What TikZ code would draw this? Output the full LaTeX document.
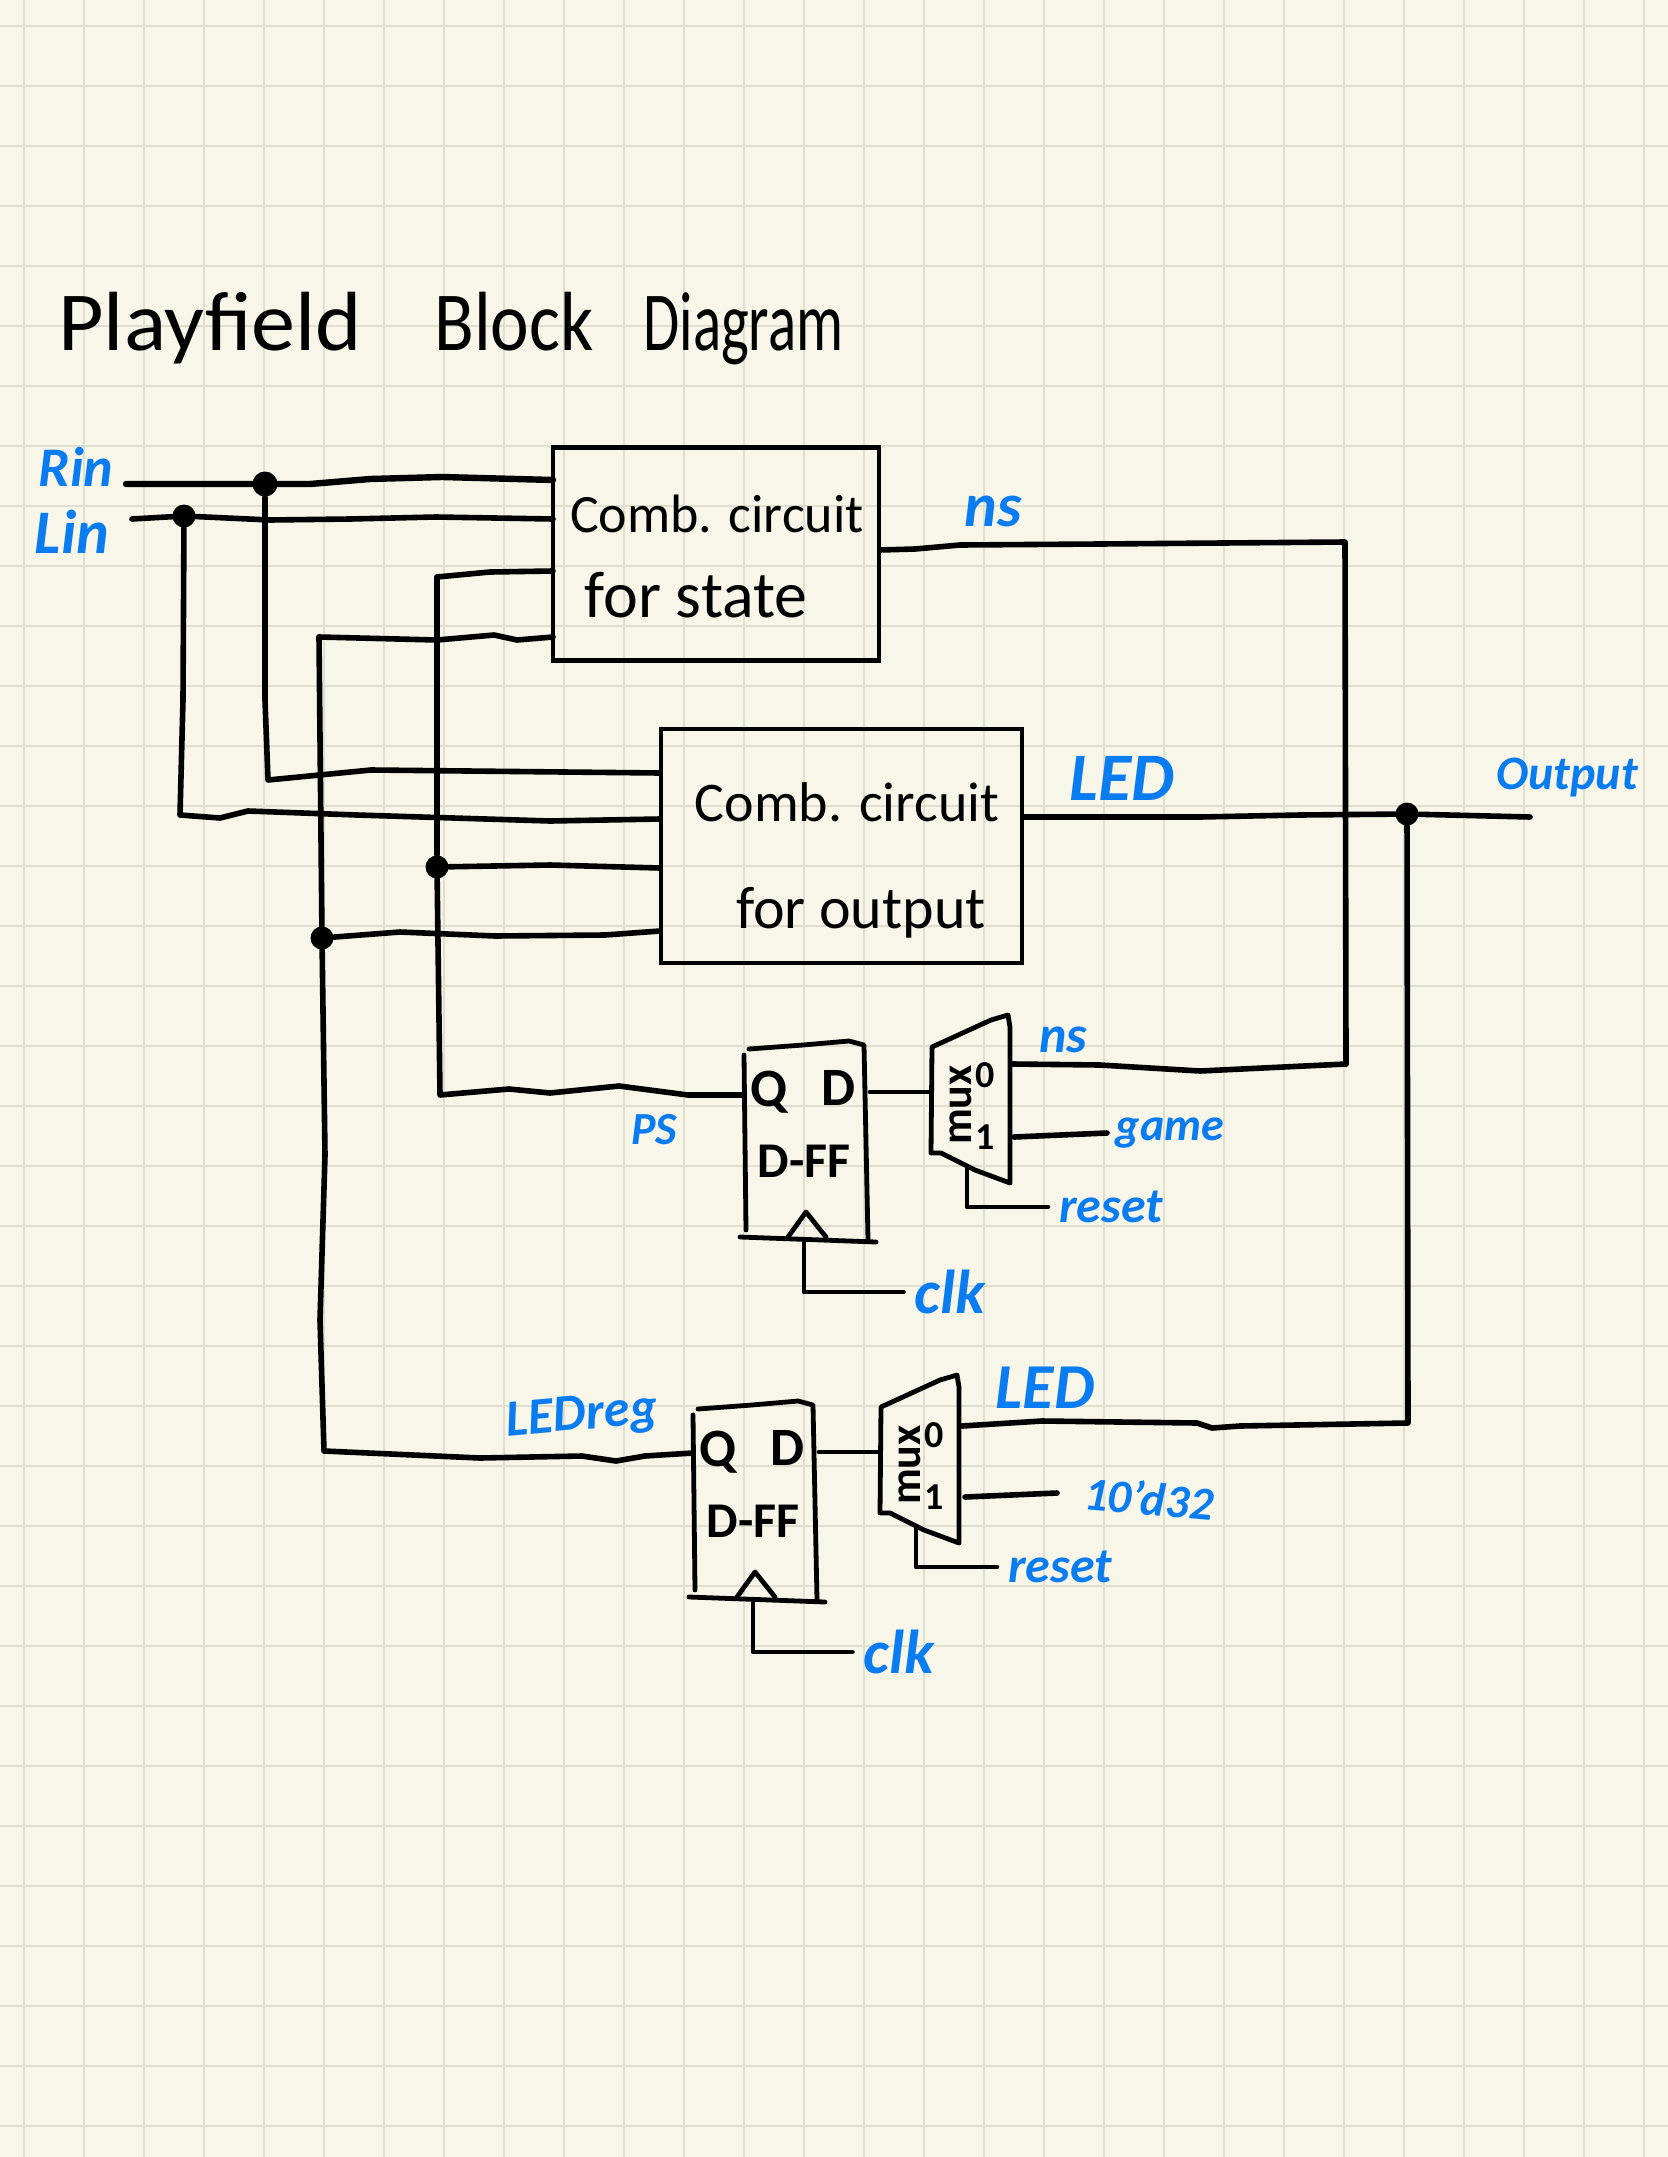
\documentclass[tikz,border=0pt]{standalone}
\usepackage{fontspec}
\usepackage{graphicx}
\setmainfont{Carlito}
\usetikzlibrary{positioning}
\definecolor{paper}{HTML}{F8F6E9}
\definecolor{gridc}{HTML}{E0DECF}
\definecolor{sigblue}{HTML}{0A7CF2}
\tikzset{
    block/.style={draw, line width=2.2pt, inner sep=0pt},
    wire/.style={line width=2.8pt, line join=round, line cap=round},
    part/.style={line width=2.4pt, line join=round, line cap=round},
    dot/.style={circle, fill=black, inner sep=0pt, minimum size=11.5pt},
    hand/.style={inner sep=0pt, font=\fontsize{#1}{#1}\selectfont},
    handb/.style={inner sep=0pt, font=\bfseries\fontsize{#1}{#1}\selectfont},
    sig/.style={text=sigblue, inner sep=5.5pt, font=\bfseries\itshape\fontsize{#1}{#1}\selectfont},
}
\begin{document}
\begin{tikzpicture}[x=0.5pt, y=-0.5pt]
    \useasboundingbox (0,0) rectangle (1668,2157);
    \fill[paper] (0,0) rectangle (1668,2157);
    \foreach \gx in {24,84,...,1668} \draw[gridc, line width=1pt] (\gx,0) -- (\gx,2157);
    \foreach \gy in {26,86,...,2157} \draw[gridc, line width=1pt] (0,\gy) -- (1668,\gy);

    \node[hand=42, anchor=base west] (title) at (58,350)
        {\scalebox{1.05}[1]{Playfield}\hspace{36pt}\scalebox{0.87}[1]{Block}\hspace{25pt}\scalebox{0.7}[1]{Diagram}};

    \node[block, minimum width=163pt, minimum height=106.5pt] (cs) at (716,554) {};
    \node[block, minimum width=180.5pt, minimum height=117pt] (co) at (841.5,846) {};
    \node[hand=27, anchor=base] (csa) at (717,532) {Comb. circuit};
    \node[hand=33, anchor=base] (csb) at (696,617) {for state};
    \node[hand=28, anchor=base] (coa) at (847,821) {Comb. circuit};
    \node[hand=30, anchor=base] (cob) at (861,928) {for output};

    \node[sig=28] (rin) at (76,467) {Rin};
    \node[sig=31] (lin) at (72,532) {Lin};
    \node[sig=31] (nsl) at (993,511) {ns};
    \node[sig=34] (ledl) at (1122,778) {LED};
    \node[sig=24] (outl) at (1567,778) {Output};
    \node[sig=23] (psl) at (654,1130) {PS};
    \node[sig=26] (nsa) at (1063,1040) {ns};
    \node[sig=23] (game) at (1170,1133) {game};
    \node[sig=32] (ledb) at (1045,1388) {LED};
    \node[sig=23.5, rotate=-5] (dec) at (1149,1498) {10'd32};
    \node[sig=26, rotate=5] (ledr) at (582,1417) {LEDreg};

    \foreach \s/\dx/\dy in {a/0/0, b/-51/360} {
        \begin{scope}[shift={(\dx,\dy)}]
            \node[handb=25] (ff\s) at (804,1161) {D-FF};
            \node[handb=27] (q\s) at (769,1092) {Q};
            \node[handb=27] (d\s) at (839,1088) {D};
            \draw[part] (744,1055) -- (746,1230);
            \draw[part] (749,1049) -- (803,1045) -- (849,1041) -- (864,1045) -- (868,1240);
            \draw[part] (740,1237) -- (876,1242);
            \draw[part] (788,1237) -- (806,1212) -- (826,1237);

            \node[handb=22, rotate=90] (mx\s) at (961,1105) {mux};
            \node[handb=19] (z\s) at (985,1075) {0};
            \node[handb=19] (o\s) at (985,1137) {1};
            \draw[part] (932,1047) -- (991,1020) -- (1008,1015) -- (1010,1027) -- (1010,1183)
                -- (975,1170) -- (941,1153) -- (931,1153) -- cycle;

            \node[sig=25] (rst\s) at (1111,1207) {reset};
            \node[sig=31] (clk\s) at (950,1292) {clk};
            \coordinate (ck\s) at (804,1243);
            \coordinate (sel\s) at (967,1167);
            \coordinate (ffo\s) at (870,1092);
            \coordinate (mxi\s) at (931,1092);
            \draw[part] (ck\s) |- (clk\s.west);
            \draw[part] (sel\s) |- (rst\s.west);
            \draw[part] (ffo\s) -- (mxi\s);
        \end{scope}
    }

    \node[dot, minimum size=12.5pt] (jr) at (265,484) {};
    \node[dot] (jl) at (184,516) {};
    \node[dot] (jp) at (437,867) {};
    \node[dot] (jq) at (322,938) {};
    \node[dot] (jo) at (1407,814) {};

    \coordinate (rinp) at (126,484);
    \coordinate (linp) at (132,519);
    \coordinate (cpa) at (553,480);
    \coordinate (cpb) at (553,519);
    \coordinate (cpc) at (553,571);
    \coordinate (cpd) at (553,637);
    \coordinate (cpe) at (880,550);
    \coordinate (opa) at (660,773);
    \coordinate (opb) at (660,819);
    \coordinate (opc) at (660,868);
    \coordinate (opd) at (660,931);
    \coordinate (ope) at (1023,817);
    \coordinate (outp) at (1530,817);
    \coordinate (fqa) at (744,1095);
    \coordinate (fqb) at (693,1453);
    \coordinate (nsc) at (1345,542);
    \coordinate (nsd) at (1346,1064);
    \coordinate (ledc) at (1408,1423);
    \coordinate (wp) at (437,577);
    \coordinate (wq) at (319,637);

    \draw[wire, line width=3.2pt] (rinp) -- (jr) -- (310,484) -- (370,479) -- (442,477) -- (cpa);
    \draw[wire] (linp) -- (jl) -- (270,520) -- (350,519) -- (436,517) -- (cpb);
    \draw[wire] (wp) -- (490,572) -- (cpc);
    \draw[wire] (wq) -- (437,640) -- (494,635) -- (517,640) -- (cpd);
    \draw[wire] (jr) -- (265,700) -- (268,780) -- (371,770) -- (opa);
    \draw[wire] (jl) -- (183,700) -- (180,815) -- (220,818) -- (248,811) -- (357,815) -- (550,821) -- (opb);
    \draw[wire] (wp) -- (jp) -- (440,1095) -- (509,1089) -- (550,1093) -- (619,1086) -- (688,1095) -- (fqa);
    \draw[wire] (jp) -- (550,865) -- (opc);
    \draw[wire] (wq) -- (jq) -- (325,1155) -- (320,1320) -- (324,1451) -- (480,1458)
        -- (582,1456) -- (616,1461) -- (645,1456) -- (fqb);
    \draw[wire] (jq) -- (400,932) -- (495,936) -- (605,935) -- (opd);
    \draw[wire] (cpe) -- (915,549) -- (960,545) -- (1100,544) -- (nsc) -- (nsd);
    \draw[wire] (1013,1064) -- (1100,1065) -- (1200,1071) -- (nsd);
    \draw[wire] (1014,1137) -- (1107,1133);
    \draw[wire] (ope) -- (1200,817) -- (1300,815) -- (jo) -- (outp);
    \draw[wire] (jo) -- (ledc) -- (1240,1426) -- (1212,1428) -- (1197,1423) -- (1042,1421) -- (962,1426);
    \draw[wire] (965,1497) -- (1057,1493);
\end{tikzpicture}
\end{document}
